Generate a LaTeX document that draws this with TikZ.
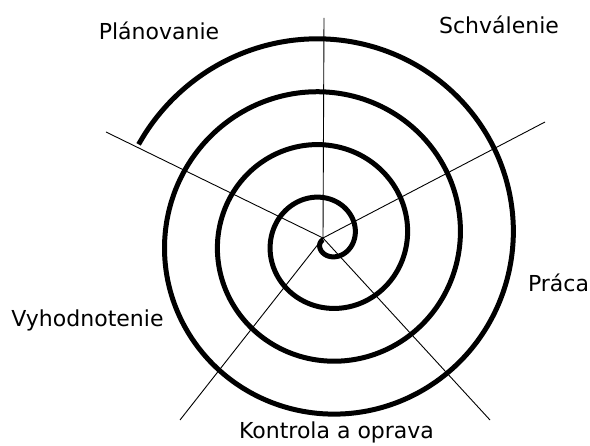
\documentclass[tikz,border=0pt]{standalone}
\usepackage{fontspec}
\setmainfont{DejaVu Sans}

\begin{document}
\begin{tikzpicture}[
  x=1pt, y=-1pt,
  spoke/.style={line width=0.9pt},
  spiral/.style={line width=5pt},
  lbl/.style={anchor=base, inner sep=0pt, font=\fontsize{22}{26}\selectfont}
]
\useasboundingbox (0,0) rectangle (590,446);
\coordinate (c) at (323,238);
\coordinate (top) at (324,18);
\coordinate (ur) at (545,122);
\coordinate (lr) at (490,420);
\coordinate (ll) at (180,420);
\coordinate (ul) at (106,132);
\draw[spoke] (c) -- (top);
\draw[spoke] (c) -- (ur);
\draw[spoke] (c) -- (lr);
\draw[spoke] (c) -- (ll);
\draw[spoke] (c) -- (ul);
\draw[spiral] plot[domain=-178:1233, samples=400, smooth]
  ({325.7+(28.5+0.1472*\x)*cos(\x)}, {239.7-(28.5+0.1472*\x)*sin(\x)});
\node[lbl] (plan) at (159,39.3) {Plánovanie};
\node[lbl] (schv) at (499,33.3) {Schválenie};
\node[lbl] (prac) at (558.5,291.7) {Práca};
\node[lbl] (kont) at (336.5,438.3) {Kontrola a oprava};
\node[lbl] (vyho) at (87.5,326.7) {Vyhodnotenie};
\end{tikzpicture}
\end{document}
